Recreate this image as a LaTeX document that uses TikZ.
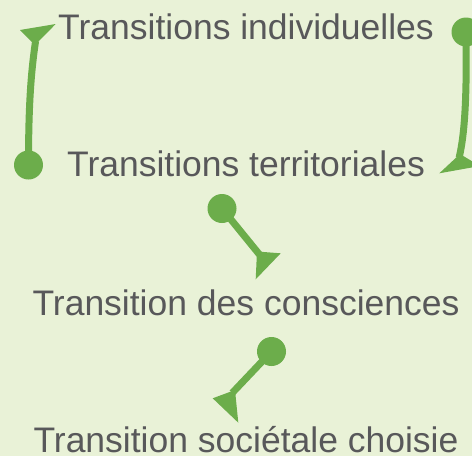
\documentclass[tikz,border=0pt]{standalone}
\usepackage{fontspec}
\setmainfont{Liberation Sans}
\definecolor{bgc}{HTML}{E9F2D7}
\definecolor{grn}{HTML}{6CAD4B}
\definecolor{txt}{HTML}{58585A}
\begin{document}
\begin{tikzpicture}[x=1pt,y=-1pt,
  lbl/.style={inner sep=0pt, anchor=base, text depth=0pt, text=txt, font=\fontsize{35.5}{40}\selectfont},
  dot/.style={circle, fill=grn, inner sep=0pt, minimum size=29pt},
  conn/.style={draw=grn, line width=7pt, shorten >=-4pt},
  head/.style={fill=grn}]
\useasboundingbox (0,0) rectangle (472,456);
\clip (0,0) rectangle (472,456);
\fill[bgc] (0,0) rectangle (472,456);
% labels
\node[lbl] (t1) at (246,39.3) {Transitions individuelles};
\node[lbl] (t2) at (246,176.7) {Transitions territoriales};
\node[lbl] (t3) at (246,315.7) {Transition des consciences};
\node[lbl] (t4) at (246,452) {Transition sociétale choisie};
% dots
\node[dot] (c1) at (28.5,165) {};
\node[dot] (c2) at (466,32) {};
\node[dot] (c3) at (222,208.5) {};
\node[dot] (c4) at (271.5,351.5) {};
% joints
\coordinate (j1) at (35,45);
\coordinate (j2) at (460,154);
\coordinate (j3) at (257,251.5);
\coordinate (j4) at (235,390);
% connectors
\draw[conn] (c1.center) .. controls (28.5,110) and (30.5,75) .. (j1);
\draw[conn] (c2.center) .. controls (467,100) and (464.5,135) .. (j2);
\draw[conn] (c3.center) -- (j3);
\draw[conn] (c4.center) -- (j4);
% heads
\fill[head] (j1) -- (20,30) -- (55.7,24) -- cycle;
\fill[head] (j2) -- (439.3,173.3) -- (480,166) -- cycle;
\fill[head] (j3) -- (280.7,253.3) -- (255.7,279.3) -- cycle;
\fill[head] (j4) -- (212.7,398.3) -- (238.3,422.7) -- cycle;
\end{tikzpicture}
\end{document}
